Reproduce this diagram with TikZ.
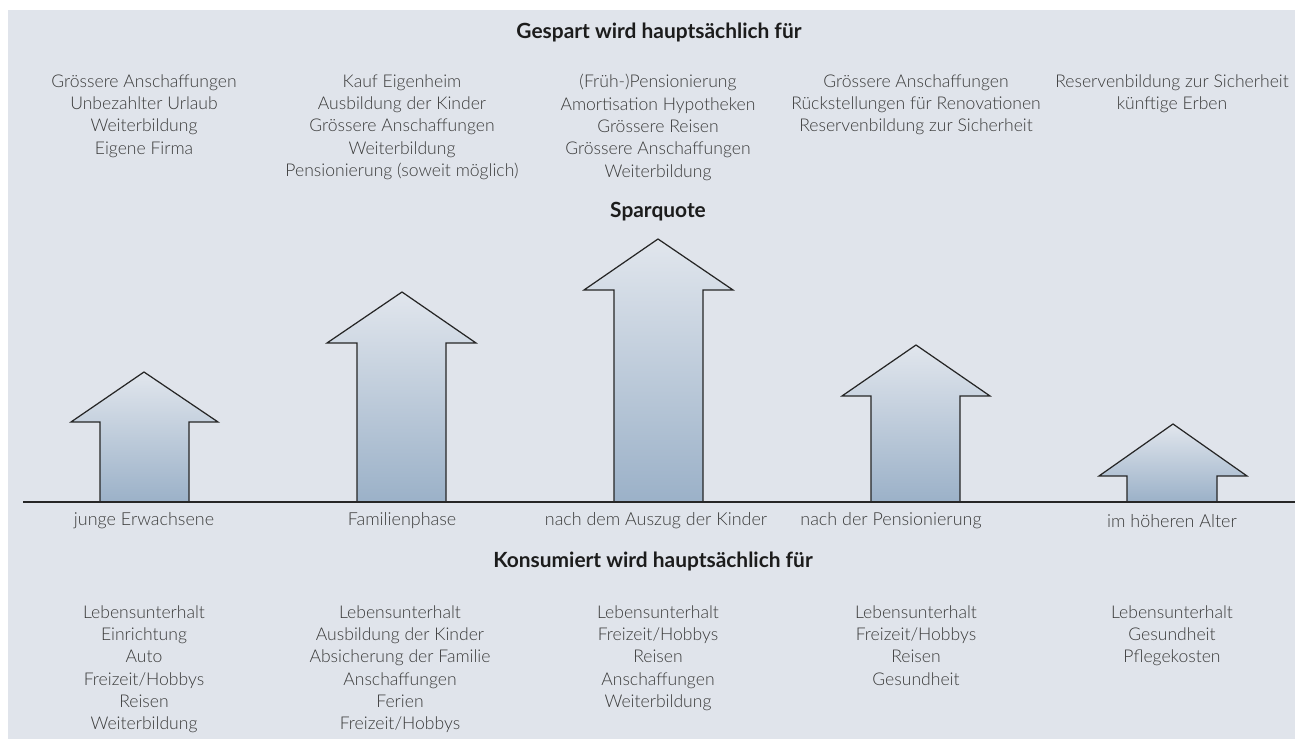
\documentclass[tikz,border=0pt]{standalone}
\usepackage{fontspec}
\setmainfont{Lato}[UprightFont=* Light, BoldFont=* Bold]
\usepackage{xcolor}
\usepackage{tikz}
\definecolor{panelgray}{RGB}{224,228,235}
\definecolor{arrowtop}{RGB}{225,230,237}
\definecolor{arrowbottom}{RGB}{155,177,200}
\definecolor{textgray}{RGB}{58,58,58}
\definecolor{headblack}{RGB}{28,28,28}
\tikzset{
  % Aufzaehlungen
  list/.style={
    align=center,
    anchor=north,
    inner sep=0pt,
    text=textgray,
    font=\fontsize{10}{12.7}\selectfont
  },
  % Phasen unter der Linie
  phase/.style={inner sep=0pt, text=textgray, font=\fontsize{10.2}{12.7}\selectfont},
  % Titel
  heading/.style={inner sep=0pt, text=headblack, font=\fontsize{11.9}{14}\selectfont\bfseries},
  % Pfeile
  rise/.style={draw=black!85, line width=0.7pt, line join=miter, top color=arrowtop, bottom color=arrowbottom},
}

\begin{document}
\begin{tikzpicture}[x=0.02cm, y=-0.02cm]
    \useasboundingbox (0,0) rectangle (1295,739);
    % Hintergrund
    \fill[panelgray] (8,10) rectangle (1295,739);

    % Titel oben
    \node[heading] (savetitle) at (659,32) {Gespart wird hauptsächlich für};

    % Sparziele
    \node[list] (save1) at (144,74) {Grössere Anschaffungen\\Unbezahlter Urlaub\\Weiterbildung\\Eigene Firma};
    \node[list] (save2) at (402,74) {Kauf Eigenheim\\Ausbildung der Kinder\\Grössere Anschaffungen\\Weiterbildung\\Pensionierung (soweit möglich)};
    \node[list] (save3) at (658,74) {(Früh-)Pensionierung\\Amortisation Hypotheken\\Grössere Reisen\\Grössere Anschaffungen\\Weiterbildung};
    \node[list] (save4) at (916,74) {Grössere Anschaffungen\\Rückstellungen für Renovationen\\Reservenbildung zur Sicherheit};
    \node[list] (save5) at (1172,74) {Reservenbildung zur Sicherheit\\künftige Erben};

    % Sparquote
    \node[heading] (rate) at (658,212) {Sparquote};

    % Pfeile
    \draw[rise] (100,502) -- (100,422) -- (71,422) -- (144,372) -- (218,422) -- (189,422) -- (189,502) -- cycle;
    \draw[rise] (357,502) -- (357,343) -- (327,343) -- (402,292) -- (476,343) -- (446,343) -- (446,502) -- cycle;
    \draw[rise] (614,502) -- (614,290) -- (584,290) -- (658,239) -- (733,290) -- (703,290) -- (703,502) -- cycle;
    \draw[rise] (871,502) -- (871,396) -- (842,396) -- (916,345) -- (990,396) -- (960,396) -- (960,502) -- cycle;
    \draw[rise] (1127,502) -- (1127,476) -- (1099,476) -- (1173,424) -- (1247,476) -- (1217,476) -- (1217,502) -- cycle;

    % Grundlinie
    \draw[black!85, line width=0.7pt] (23,502) -- (1295,502);

    % Lebensphasen
    \node[phase] (phase1) at (144,521) {junge Erwachsene};
    \node[phase] (phase2) at (402,521) {Familienphase};
    \node[phase] (phase3) at (656,521) {nach dem Auszug der Kinder};
    \node[phase] (phase4) at (891,521) {nach der Pensionierung};
    \node[phase] (phase5) at (1172,521) {im höheren Alter};

    % Titel unten
    \node[heading] (spendtitle) at (653,561) {Konsumiert wird hauptsächlich für};

    % Konsum
    \node[list] (spend1) at (144,605) {Lebensunterhalt\\Einrichtung\\Auto\\Freizeit/Hobbys\\Reisen\\Weiterbildung};
    \node[list] (spend2) at (400,605) {Lebensunterhalt\\Ausbildung der Kinder\\Absicherung der Familie\\Anschaffungen\\Ferien\\Freizeit/Hobbys};
    \node[list] (spend3) at (658,605) {Lebensunterhalt\\Freizeit/Hobbys\\Reisen\\Anschaffungen\\Weiterbildung};
    \node[list] (spend4) at (916,605) {Lebensunterhalt\\Freizeit/Hobbys\\Reisen\\Gesundheit};
    \node[list] (spend5) at (1172,605) {Lebensunterhalt\\Gesundheit\\Pflegekosten};
\end{tikzpicture}
\end{document}
